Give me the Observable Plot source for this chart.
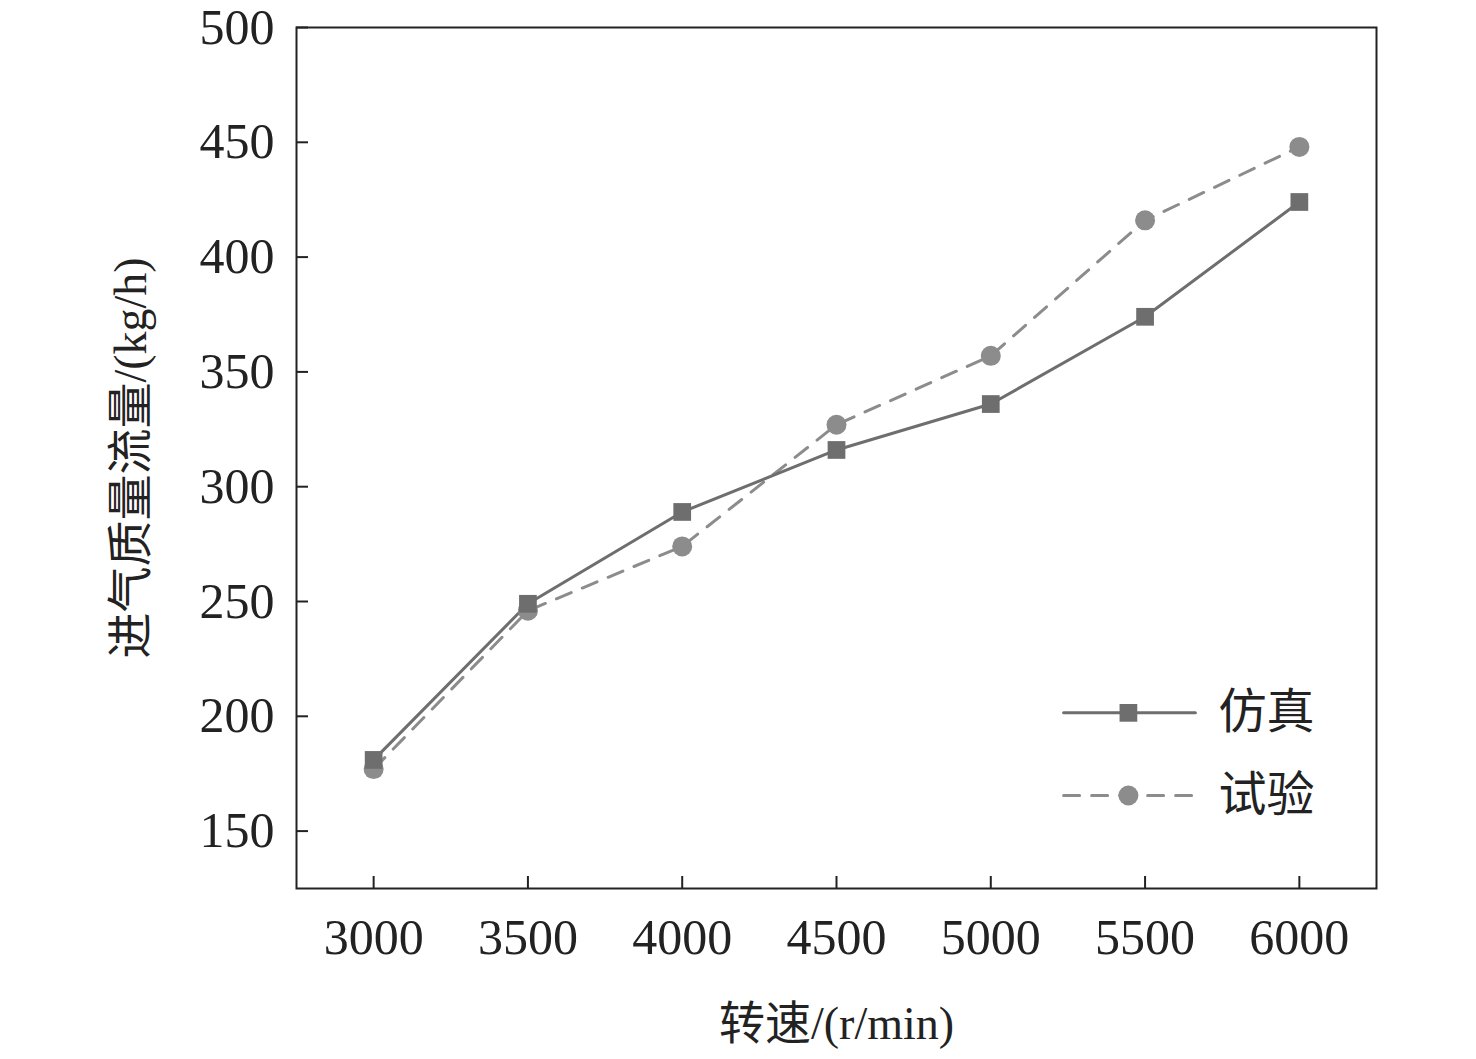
<!DOCTYPE html>
<html><head><meta charset="utf-8">
<script src="https://cdn.jsdelivr.net/npm/d3@7"></script>
<script src="https://cdn.jsdelivr.net/npm/@observablehq/plot@0.6"></script>
<style>body{margin:0;background:#fff}</style>
</head><body><div id="c"></div>
<script>
const speeds = [3000, 3500, 4000, 4500, 5000, 5500, 6000];
const simValues = [181, 249, 289, 316, 336, 374, 424];
const expValues = [177, 246, 274, 327, 357, 416, 448];
const seriesNames = ["仿真", "试验"];
const yTicks = [150, 200, 250, 300, 350, 400, 450, 500];

const sim = speeds.map((s, i) => ({x: s, y: simValues[i]}));
const exp = speeds.map((s, i) => ({x: s, y: expValues[i]}));
const legSim = [{x: 5236, y: 201.5}, {x: 5663, y: 201.5}];
const legExp = [{x: 5236, y: 165.5}, {x: 5663, y: 165.5}];

const font = "'Liberation Serif','Noto Sans CJK SC',serif";
const simColor = "#6e6e6e", expColor = "#8c8c8c";

const chart = Plot.plot({
  width: 1476, height: 1059,
  marginLeft: 296, marginRight: 100, marginTop: 27, marginBottom: 171,
  style: {fontFamily: font, fontSize: "50px", color: "#222", background: "#fff"},
  x: {domain: [2750, 6250], label: null},
  y: {domain: [125, 500], label: null},
  marks: [
    Plot.frame({stroke: "#222", strokeWidth: 2}),
    Plot.axisX({ticks: speeds, tickFormat: d => String(d), tickSize: -12, tickPadding: 42, label: null, stroke: "#222", strokeWidth: 2, fontSize: 50}),
    Plot.axisY({ticks: yTicks, tickSize: -12, tickPadding: 34, label: null, stroke: "#222", strokeWidth: 2, fontSize: 50}),
    Plot.line(exp, {x: "x", y: "y", stroke: expColor, strokeWidth: 3, strokeDasharray: "16,12"}),
    Plot.line(sim, {x: "x", y: "y", stroke: simColor, strokeWidth: 3}),
    Plot.dot(exp, {x: "x", y: "y", r: 10, fill: expColor, stroke: "none"}),
    Plot.dot(sim, {x: "x", y: "y", symbol: "square", r: 10, fill: simColor, stroke: "none"}),
    Plot.line(legSim, {x: "x", y: "y", stroke: simColor, strokeWidth: 3}),
    Plot.line(legExp, {x: "x", y: "y", stroke: expColor, strokeWidth: 3, strokeDasharray: "16,12"}),
    Plot.dot([{x: 5446, y: 201.5}], {x: "x", y: "y", symbol: "square", r: 10, fill: simColor}),
    Plot.dot([{x: 5446, y: 165.5}], {x: "x", y: "y", r: 10, fill: expColor}),
    Plot.text([{x: 5738, y: 201.5, t: seriesNames[0]}, {x: 5738, y: 165.5, t: seriesNames[1]}],
      {x: "x", y: "y", text: "t", textAnchor: "start", fontSize: 48, fill: "#222"}),
    Plot.text(["转速/(r/min)"], {frameAnchor: "bottom", dy: 150, fontSize: 46, fill: "#222"}),
    Plot.text(["进气质量流量/(kg/h)"], {frameAnchor: "left", textAnchor: "middle", dx: -165, rotate: -90, fontSize: 46, fill: "#222"})
  ]
});
document.getElementById("c").appendChild(chart);
</script>
</body></html>
